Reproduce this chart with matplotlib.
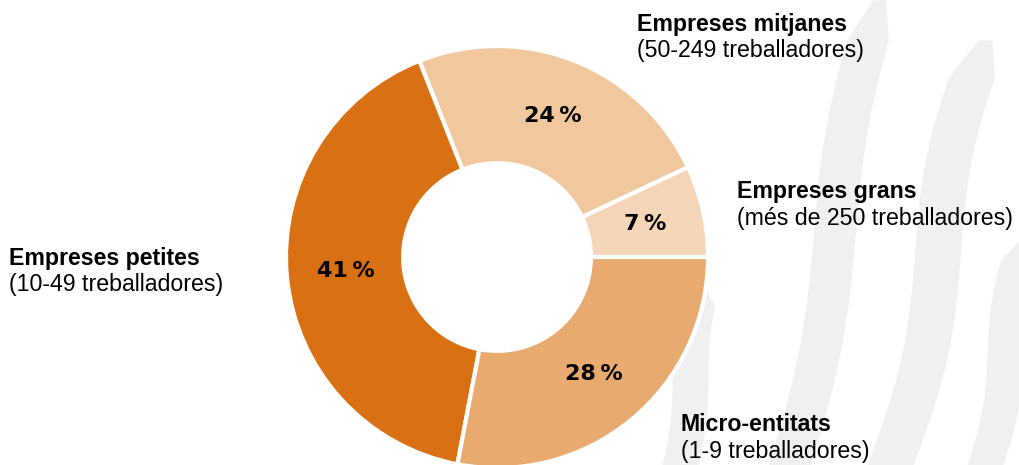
import matplotlib.pyplot as plt
import numpy as np

plt.rcParams['font.family'] = ['Liberation Sans', 'DejaVu Sans']

# data (counterclockwise from 3 o'clock)
categories = ['Empreses grans', 'Empreses mitjanes', 'Empreses petites', 'Micro-entitats']
subtitles = ['(més de 250 treballadores)', '(50-249 treballadores)',
             '(10-49 treballadores)', '(1-9 treballadores)']
shares = [7, 24, 41, 28]
colors = ['#F5D6B9', '#F1C89E', '#D97013', '#E9AA70']

W, H = 1019, 465
fig = plt.figure(figsize=(W / 100, H / 100), dpi=100)

# faint decorative stripes in the background
bg = fig.add_axes([0, 0, 1, 1], zorder=0)
bg.set_xlim(0, W)
bg.set_ylim(H, 0)
bg.axis('off')
t = np.linspace(0, 1, 80)
stripes = [  # (x at bottom, x at top, y top, width, wobble)
    (680, 700, 290, 36, 3),
    (790, 880, 0, 42, 8),
    (890, 985, 40, 46, 10),
    (985, 1025, 240, 36, 5),
]
for xb, xt, yt, w, amp in stripes:
    y = H - t * (H - yt)
    xc = xb + (xt - xb) * t + amp * np.sin(t * 2 * np.pi)
    half = w / 2 * np.minimum(1, (1 - t) * 8 + 0.3)
    bg.fill_betweenx(y, xc - half, xc + half, color='#EFF0EF', lw=0)

# donut
cx, cy, r = 497, 257, 211
ax = fig.add_axes([(cx - r) / W, (H - cy - r) / H, 2 * r / W, 2 * r / H], zorder=1)
wedges, _, pcts = ax.pie(shares, colors=colors, startangle=0, counterclock=True,
                         radius=1, autopct=lambda p: f'{p:.0f}\u2009%',
                         pctdistance=0.72,
                         wedgeprops=dict(width=0.555, edgecolor='white', linewidth=3))
for tx in pcts:
    tx.set_fontsize(16)
    tx.set_fontweight('bold')
    tx.set_family('DejaVu Sans')
    tx.set_color('black')
for w in wedges:
    w.set_clip_on(False)
ax.set_xlim(-1, 1)
ax.set_ylim(-1, 1)
ax.set_aspect('equal')
ax.axis('off')

# outer labels (pixel positions of the text block)
label_pos = [(737, 191), (637, 24), (9, 258), (681, 424)]
for name, sub, (lx, ly) in zip(categories, subtitles, label_pos):
    fig.text(lx / W, 1 - ly / H, name, fontsize=16.7, fontweight='bold',
             ha='left', va='center', zorder=3)
    fig.text(lx / W, 1 - (ly + 27) / H, sub, fontsize=16.7,
             ha='left', va='center', zorder=3)

plt.savefig('out.png', dpi=100)
